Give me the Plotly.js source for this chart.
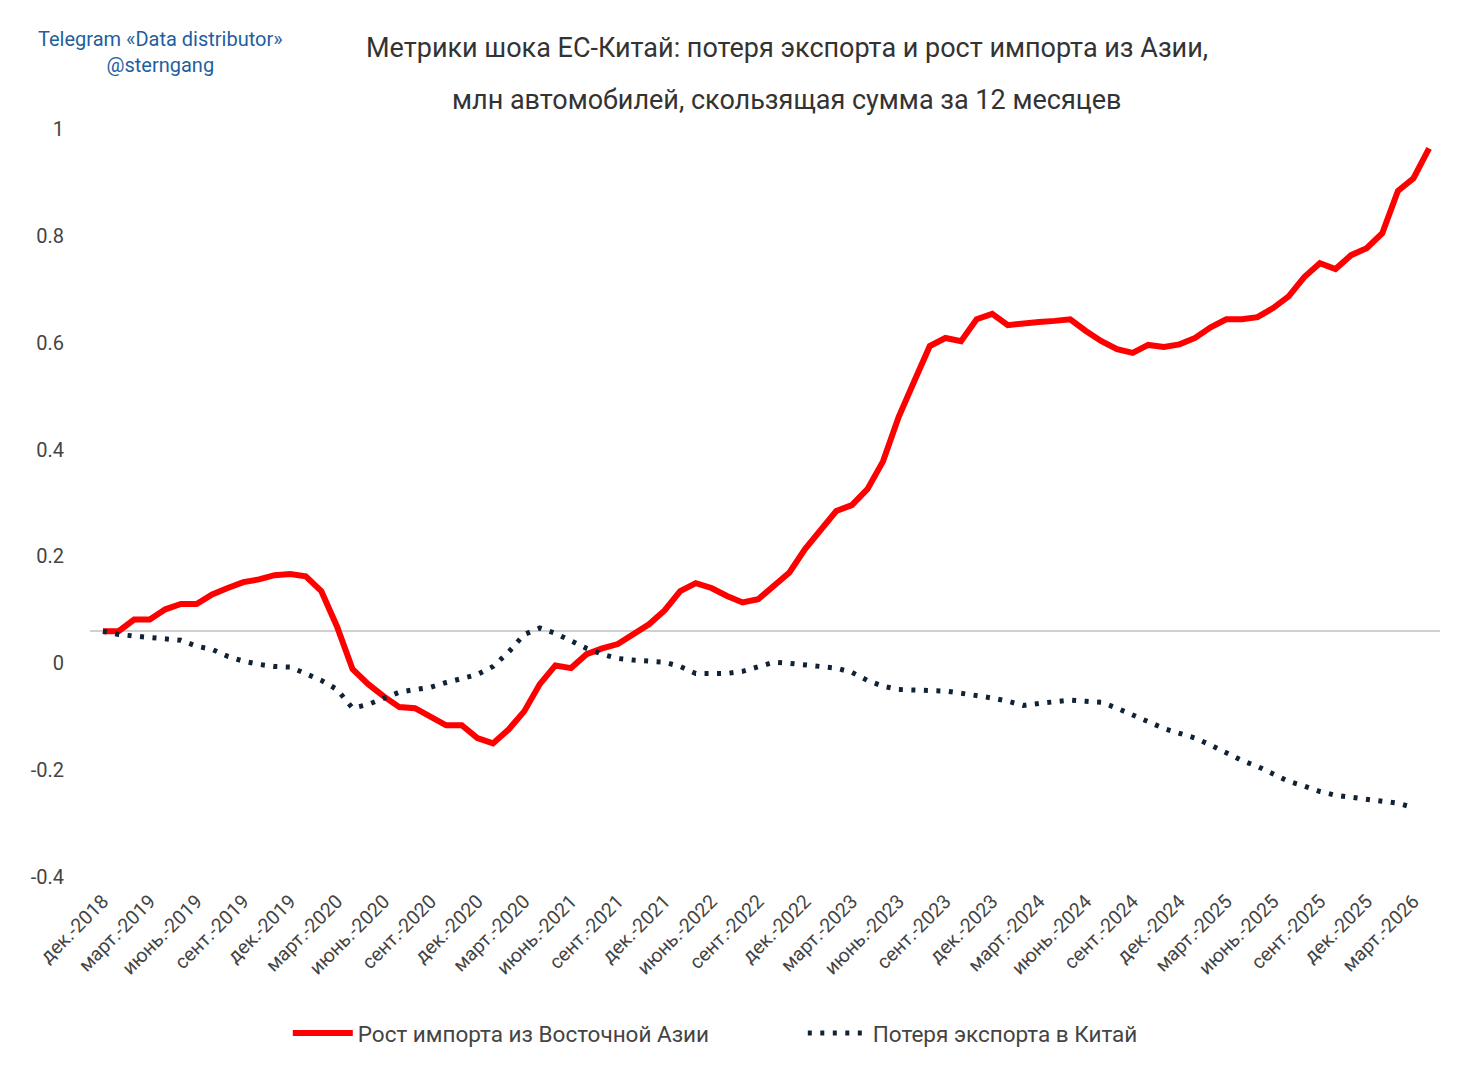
<!DOCTYPE html>
<html>
<head>
<meta charset="utf-8">
<script src="https://cdn.plot.ly/plotly-3.0.1.min.js"></script>
<style>body{margin:0;background:#fff}#chart{width:1473px;height:1068px}</style>
</head>
<body>
<div id="chart"></div>
<script>
// monthly points, rolling 12-month sum, mln cars
var importGrowth = [0, 0, 0.022, 0.022, 0.041, 0.051, 0.051, 0.069, 0.081, 0.092, 0.097, 0.105, 0.107, 0.103,
    0.075, 0.009, -0.071, -0.099, -0.122, -0.142, -0.144, -0.159, -0.176, -0.176, -0.200, -0.210, -0.184, -0.150,
    -0.099, -0.064, -0.069, -0.043, -0.032, -0.024, -0.007, 0.013, 0.039, 0.075, 0.090, 0.081, 0.066, 0.054,
    0.060, 0.086, 0.110, 0.154, 0.191, 0.225, 0.236, 0.266, 0.318, 0.401, 0.468, 0.534, 0.549, 0.543, 0.584,
    0.594, 0.573, 0.577, 0.579, 0.581, 0.584, 0.562, 0.543, 0.528, 0.521, 0.536, 0.532, 0.537, 0.549, 0.569,
    0.584, 0.584, 0.588, 0.605, 0.627, 0.663, 0.689, 0.678, 0.704, 0.717, 0.745, 0.824, 0.848, 0.904];
var exportLoss = [0, -0.006, -0.009, -0.011, -0.015, -0.017, -0.028, -0.034, -0.047, -0.056, -0.062, -0.066,
    -0.067, -0.079, -0.092, -0.109, -0.144, -0.137, -0.125, -0.114, -0.109, -0.105, -0.096, -0.088, -0.081,
    -0.066, -0.039, -0.006, 0.006, -0.004, -0.019, -0.032, -0.043, -0.051, -0.054, -0.056, -0.058, -0.066,
    -0.079, -0.079, -0.079, -0.075, -0.067, -0.058, -0.060, -0.064, -0.066, -0.069, -0.077, -0.092, -0.103,
    -0.109, -0.110, -0.112, -0.112, -0.116, -0.120, -0.125, -0.131, -0.139, -0.135, -0.131, -0.129, -0.131,
    -0.133, -0.144, -0.157, -0.170, -0.182, -0.191, -0.200, -0.213, -0.227, -0.242, -0.253, -0.268, -0.281,
    -0.290, -0.300, -0.307, -0.311, -0.315, -0.318, -0.322, -0.330];
var xLabels = ['дек.-2018', 'март.-2019', 'июнь.-2019', 'сент.-2019', 'дек.-2019', 'март.-2020', 'июнь.-2020',
    'сент.-2020', 'дек.-2020', 'март.-2020', 'июнь.-2021', 'сент.-2021', 'дек.-2021', 'июнь.-2022', 'сент.-2022',
    'дек.-2022', 'март.-2023', 'июнь.-2023', 'сент.-2023', 'дек.-2023', 'март.-2024', 'июнь.-2024', 'сент.-2024',
    'дек.-2024', 'март.-2025', 'июнь.-2025', 'сент.-2025', 'дек.-2025', 'март.-2026'];
var yLabels = [1, 0.8, 0.6, 0.4, 0.2, 0, -0.2, -0.4];
var yLabelShift = -0.06; // labels in the source sit below their gridline

var xi = function(arr){ return arr.map(function(_, i){ return i; }); };
var data = [
    {x: xi(importGrowth), y: importGrowth, name: 'Рост импорта из Восточной Азии', mode: 'lines',
     line: {color: '#ff0000', width: 6}},
    {x: xi(exportLoss), y: exportLoss, name: 'Потеря экспорта в Китай', mode: 'lines',
     line: {color: '#0f2236', width: 5, dash: '4px,8.5px'}}
];
var titleFont = {family: 'Roboto, sans-serif', size: 27, color: '#333'};
var layout = {
    width: 1473, height: 1068,
    margin: {l: 90, r: 33, t: 120, b: 183},
    paper_bgcolor: '#fff', plot_bgcolor: '#fff',
    font: {family: 'Roboto, sans-serif', color: '#444'},
    xaxis: {range: [-0.83, 85.7], showgrid: false, zeroline: false, showline: false,
        tickvals: xLabels.map(function(_, i){ return i * 3; }), ticktext: xLabels,
        tickangle: -45, ticks: '', tickfont: {size: 19.5, color: '#444'}},
    yaxis: {range: [-0.475, 0.957], showgrid: false, zeroline: true, zerolinecolor: '#d0d0d0', zerolinewidth: 1.5,
        tickvals: yLabels.map(function(v){ return v + yLabelShift; }), ticktext: yLabels.map(String),
        ticks: '', ticklabelstandoff: 25, tickfont: {size: 20, color: '#444'}},
    showlegend: true,
    legend: {orientation: 'h', x: 0.528, xanchor: 'center', y: -0.194, yanchor: 'middle',
        font: {size: 22.5, color: '#444'}, itemwidth: 60, entrywidth: 440},
    annotations: [
        {text: 'Метрики шока ЕС-Китай: потеря экспорта и рост импорта из Азии,', xref: 'paper', yref: 'paper',
         x: 0.516, y: 1.094, xanchor: 'center', yanchor: 'middle', showarrow: false, font: titleFont},
        {text: 'млн автомобилей, скользящая сумма за 12 месяцев', xref: 'paper', yref: 'paper',
         x: 0.516, y: 1.026, xanchor: 'center', yanchor: 'middle', showarrow: false, font: titleFont},
        {text: 'Telegram «Data distributor»<br>@sterngang', xref: 'paper', yref: 'paper',
         x: 0.052, y: 1.089, xanchor: 'center', yanchor: 'middle', showarrow: false, align: 'center',
         font: {size: 20, color: '#1f5f9e', family: 'Roboto, sans-serif'}}
    ]
};
Plotly.newPlot('chart', data, layout, {displayModeBar: false});
</script>
</body>
</html>
